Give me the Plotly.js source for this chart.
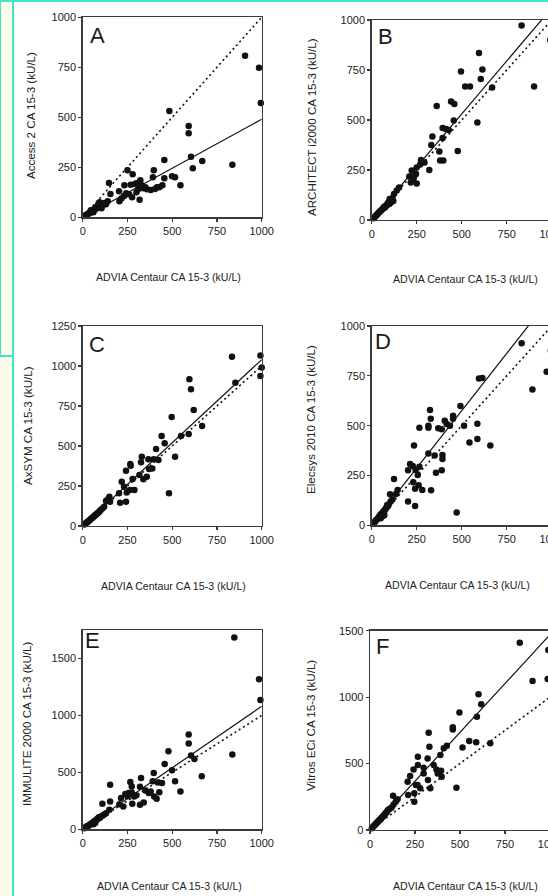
<!DOCTYPE html>
<html>
<head>
<meta charset="utf-8">
<script src="https://cdn.plot.ly/plotly-3.0.1.min.js"></script>
<style>
  html, body { margin: 0; padding: 0; background: #ffffff; width: 548px; height: 896px; overflow: hidden; }
  #strip { position: absolute; left: 0; top: 0; width: 12px; height: 896px; background: #fbfde9; border-right: 2px solid #3fe6c9; }
  #box { position: absolute; left: 0; top: 0; width: 11px; height: 355px; border-left: 1px solid #3fe6c9; border-bottom: 2px solid #3fe6c9; }
  #topline { position: absolute; left: 0; top: 0; width: 548px; height: 2px; background: #3fe6c9; }
  #chart { position: absolute; left: 0; top: 0; width: 600px; height: 896px; }
</style>
</head>
<body>
<div id="strip"></div>
<div id="box"></div>
<div id="topline"></div>
<div id="chart"></div>
<script>
// ---------- DATA ----------
const panelLetters = ["A", "B", "C", "D", "E", "F"];
const xTitle = "ADVIA Centaur CA 15-3 (kU/L)";
const yTitles = ["Access 2 CA 15-3 (kU/L)", "ARCHITECT i2000 CA 15-3 (kU/L)", "AxSYM CA 15-3 (kU/L)",
                 "Elecsys 2010 CA 15-3 (kU/L)", "IMMULITE 2000 CA 15-3 (kU/L)", "Vitros ECi CA 15-3 (kU/L)"];
const xTicks = [0, 250, 500, 750, 1000];
const yTicksA = [0, 250, 500, 750, 1000];
const yTicksC = [0, 250, 500, 750, 1000, 1250];
const yTicksE = [0, 500, 1000, 1500];
const yMax = [1000, 1000, 1250, 1000, 1750, 1500];
const regressionSlope = [0.49, 1.06, 1.04, 1.15, 1.08, 1.47];
const identitySlope = [1, 1, 1, 1, 1, 1];

const adviaA = [907,985,995,484,592,592,605,615,668,836,456,397,499,516,546,456,250,279,147,155,203,233,268,292,322,318,259,276,339,359,380,404,428,445,205,218,231,243,300,310,330,350,392,415,300,
  130,120,110,100,95,90,85,80,75,70,65,60,55,50,45,40,35,30,25,20,15,10,140,105,60,45];
const access2 = [808,748,572,532,457,420,303,245,282,263,287,235,205,200,160,195,235,215,172,117,130,160,163,167,185,88,115,100,145,140,137,142,150,160,80,95,107,120,125,140,160,150,200,150,170,
  65,72,58,60,75,52,62,45,50,40,42,36,32,30,28,22,20,18,14,12,9,6,80,45,25,35];

const adviaB = [833,902,992,596,496,606,615,519,546,669,361,441,459,456,587,478,337,331,394,413,428,394,376,380,398,320,274,293,269,250,222,246,209,231,250,217,235,152,139,124,106,98,83,74,
  115,110,95,90,85,70,65,60,55,50,45,40,35,30,25,20,15,10,120,100];
const architect = [972,667,900,835,742,705,752,667,667,663,570,592,580,497,488,345,417,375,460,455,450,410,343,297,297,250,300,288,277,263,247,230,217,197,183,188,215,163,147,130,88,80,72,63,
  110,100,90,85,78,68,60,55,50,46,42,38,33,28,24,18,14,9,95,105];

const adviaC = [834,993,993,1000,853,596,605,620,667,497,549,592,441,458,410,516,482,330,326,367,397,389,371,423,266,268,242,279,289,264,218,231,246,203,209,242,317,339,358,149,130,153,140,
  120,110,100,95,90,85,80,75,70,65,60,55,50,45,40,35,30,25,20,15,10];
const axsym = [1058,1065,937,990,896,917,854,725,625,681,562,575,562,517,481,433,204,433,398,417,417,360,356,412,387,377,346,294,225,225,277,246,210,204,146,152,319,292,308,183,156,152,165,
  120,110,100,92,88,82,78,70,68,62,58,52,48,44,38,33,28,24,20,14,10];

const adviaD = [833,893,972,995,596,615,493,659,543,587,587,513,452,452,435,406,417,370,389,324,328,315,315,265,235,315,350,393,393,389,357,330,281,261,265,213,228,202,244,256,231,241,202,241,472,124,102,144,135,
  115,105,95,90,85,80,75,70,65,60,55,50,45,40,35,30,25,20,15,10,60,70,50];
const elecsys = [913,682,771,877,736,739,599,400,416,510,433,500,550,535,500,525,508,487,482,579,535,500,490,490,400,360,350,353,333,276,264,176,177,201,294,308,298,276,278,253,216,184,120,97,64,232,156,177,157,
  130,120,105,95,100,85,80,72,70,62,58,55,48,42,36,30,26,20,15,10,45,50,35];

const adviaE = [847,985,993,836,665,592,592,605,624,479,458,499,516,546,397,391,443,428,326,320,320,341,153,266,274,238,257,274,287,214,205,227,277,369,380,399,413,153,110,149,130,300,250,350,420,
  120,110,100,95,90,85,80,75,70,65,60,55,50,45,40,35,30,25,20,15,10,70,60];
const immulite = [1685,1318,1135,656,465,832,753,647,618,685,574,518,421,332,494,421,406,326,450,374,215,235,391,415,376,309,318,324,288,274,221,200,224,318,332,288,268,244,224,171,141,300,290,340,410,
  130,120,110,100,105,95,88,80,75,70,62,58,52,46,42,36,30,26,22,16,10,55,45];

const adviaF = [832,903,987,991,603,594,618,497,460,460,514,551,590,668,480,410,427,391,326,330,320,354,369,376,395,398,335,322,279,264,266,266,298,298,242,223,209,212,246,246,255,128,153,143,
  120,110,100,95,90,85,80,75,70,65,60,55,50,45,40,35,30,25,20,15,10,130];
const vitros = [1410,1121,1136,1354,1021,853,946,885,757,773,620,670,660,652,318,615,635,564,732,627,539,489,456,426,446,401,314,376,314,339,552,489,469,426,456,406,364,263,213,276,339,258,231,213,
  170,160,150,140,130,125,115,108,100,92,85,78,72,64,56,50,42,35,28,20,14,190];

const lineX = [0, 1000];

// ---------- LAYOUT GEOMETRY (pixels) ----------
const W = 600, H = 896;
const px = v => v / W;
const py = v => 1 - v / H;
const colX = [[82.7, 261.7], [371.7, 551.7], [82.7, 261.7], [371.7, 551.7], [82.7, 261.7], [370, 550]];
const rowY = [[17.3, 217.3], [20, 220], [326, 526], [326, 525.3], [630, 829.3], [630.7, 830]];
const xTitlePos = [[168, 277], [466, 279], [173, 586], [457, 585], [169, 886], [466, 886]];
const yTitlePos = [[31, 116], [312, 127], [27, 426], [310, 420], [26, 724], [310, 726]];
const letterPos = [[88, 35], [376, 36.5], [87, 344], [373, 341.5], [83, 640], [374, 646.5]];

const xs = [adviaA, adviaB, adviaC, adviaD, adviaE, adviaF];
const ys = [access2, architect, axsym, elecsys, immulite, vitros];
const yTickSets = [yTicksA, yTicksA, yTicksC, yTicksA, yTicksE, yTicksE];

const FONT = "Liberation Sans, Arial, sans-serif";
const traces = [];
const layout = {
  width: W, height: H,
  margin: {l: 0, r: 0, t: 0, b: 0},
  paper_bgcolor: "rgba(0,0,0,0)",
  plot_bgcolor: "#ffffff",
  showlegend: false,
  font: {family: FONT, color: "#222"},
  annotations: []
};

for (let i = 0; i < 6; i++) {
  const n = i === 0 ? "" : String(i + 1);
  const xa = "x" + n, ya = "y" + n;
  const axCommon = {
    showgrid: false, zeroline: false, showline: true, mirror: true,
    linecolor: "#3a3a3a", linewidth: 1.4,
    ticks: "outside", ticklen: 3, tickwidth: 1.2, tickcolor: "#3a3a3a",
    tickfont: {family: FONT, size: 11, color: "#222"}
  };
  layout["xaxis" + n] = Object.assign({}, axCommon, {
    domain: [px(colX[i][0]), px(colX[i][1])],
    range: [0, 1000], tickvals: xTicks, ticktext: xTicks.map(String),
    anchor: ya, fixedrange: true
  });
  layout["yaxis" + n] = Object.assign({}, axCommon, {
    domain: [py(rowY[i][1]), py(rowY[i][0])],
    range: [0, yMax[i]], tickvals: yTickSets[i], ticktext: yTickSets[i].map(String),
    anchor: xa, fixedrange: true
  });
  // identity line (dotted)
  traces.push({
    x: lineX, y: lineX.map(v => v * identitySlope[i]), xaxis: xa, yaxis: ya,
    mode: "lines", line: {color: "#111", width: 1.6, dash: "2px,3px"}, hoverinfo: "skip"
  });
  // regression line (solid)
  traces.push({
    x: lineX, y: lineX.map(v => v * regressionSlope[i]), xaxis: xa, yaxis: ya,
    mode: "lines", line: {color: "#111", width: 1.2}, hoverinfo: "skip"
  });
  // data points
  traces.push({
    x: xs[i], y: ys[i], xaxis: xa, yaxis: ya, mode: "markers", cliponaxis: false,
    marker: {color: "#111", size: 6.5, line: {width: 0}}
  });
  // axis titles & panel letter
  layout.annotations.push({
    text: xTitle, xref: "paper", yref: "paper", x: px(xTitlePos[i][0]), y: py(xTitlePos[i][1]),
    xanchor: "center", yanchor: "middle", showarrow: false,
    font: {family: FONT, size: 10.6, color: "#222"}
  });
  layout.annotations.push({
    text: yTitles[i], xref: "paper", yref: "paper", x: px(yTitlePos[i][0]), y: py(yTitlePos[i][1]),
    xanchor: "center", yanchor: "middle", showarrow: false, textangle: -90,
    font: {family: FONT, size: 11.6, color: "#222"}
  });
  layout.annotations.push({
    text: panelLetters[i], xref: "paper", yref: "paper", x: px(letterPos[i][0]), y: py(letterPos[i][1]),
    xanchor: "left", yanchor: "middle", showarrow: false,
    font: {family: FONT, size: 22, color: "#1a1a1a"}
  });
}

Plotly.newPlot("chart", traces, layout, {staticPlot: true, displayModeBar: false});
</script>
</body>
</html>
